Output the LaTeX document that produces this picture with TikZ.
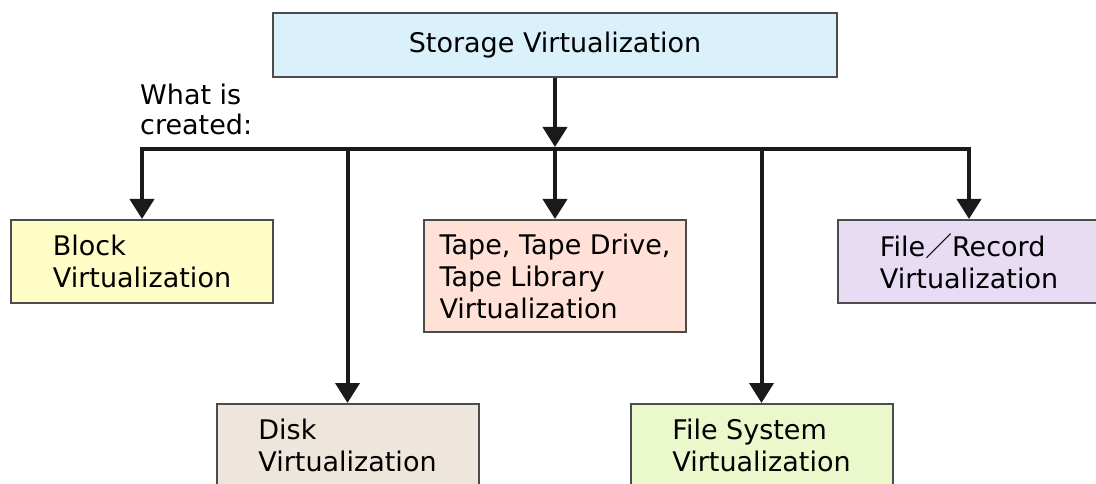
\documentclass[tikz,border=0pt]{standalone}
\usepackage{fontspec}
\setmainfont{DejaVu Sans}
\newfontfamily\cjkfont{Noto Sans CJK JP}
\usetikzlibrary{arrows.meta, positioning}

\definecolor{topblue}{HTML}{DAF1FC}
\definecolor{blockyellow}{HTML}{FFFDC6}
\definecolor{tapepink}{HTML}{FFE1D8}
\definecolor{recordlilac}{HTML}{E7DCF3}
\definecolor{diskbeige}{HTML}{EEE5DC}
\definecolor{fsysgreen}{HTML}{EBF8CB}
\definecolor{linegray}{HTML}{1A1A1A}

\begin{document}
\begin{tikzpicture}[
  x=1pt, y=1pt,
  box/.style={draw=black!70, line width=2pt, align=left, inner sep=0pt, font=\fontsize{27}{32}\selectfont, minimum width=262pt, minimum height=83pt},
  arrow/.style={draw=linegray, line width=4pt, -{Triangle[width=24pt, length=20pt]}},
  bus/.style={draw=linegray, line width=4pt, line cap=rect}
]
\useasboundingbox (0,0) rectangle (1096,-484);

\node[box, fill=topblue, minimum width=564pt, minimum height=64pt] (storage) at (555,-45) {Storage Virtualization};
\node[box, fill=tapepink, minimum height=112pt, below=141pt of storage] (tape) {Tape, Tape Drive,\\Tape Library\\Virtualization};
\node[box, fill=blockyellow, left=149pt of tape.north west, anchor=north east] (block) {Block\\Virtualization};
\node[box, fill=recordlilac, right=150pt of tape.north east, anchor=north west] (record) {File{\cjkfont ／}Record\\Virtualization};
\node[box, fill=diskbeige, anchor=north] (disk) at (347.5,-403) {Disk\\Virtualization};
\node[box, fill=fsysgreen, anchor=north] (fsys) at (761.5,-403) {File System\\Virtualization};

\node[anchor=north west, inner sep=0pt, align=left, font=\fontsize{27}{30}\selectfont] (created) at (140,-84) {What is\\created:};

% branching lines
\coordinate (busy) at (0,-149);
\draw[arrow, shorten >=2pt] (storage) -- (storage |- busy);
\draw[bus] (block.north |- busy) -- (record.north |- busy);
\foreach \n in {block,disk,tape,fsys,record}
  \draw[arrow] (\n.north |- busy) -- (\n.north);
\end{tikzpicture}
\end{document}
